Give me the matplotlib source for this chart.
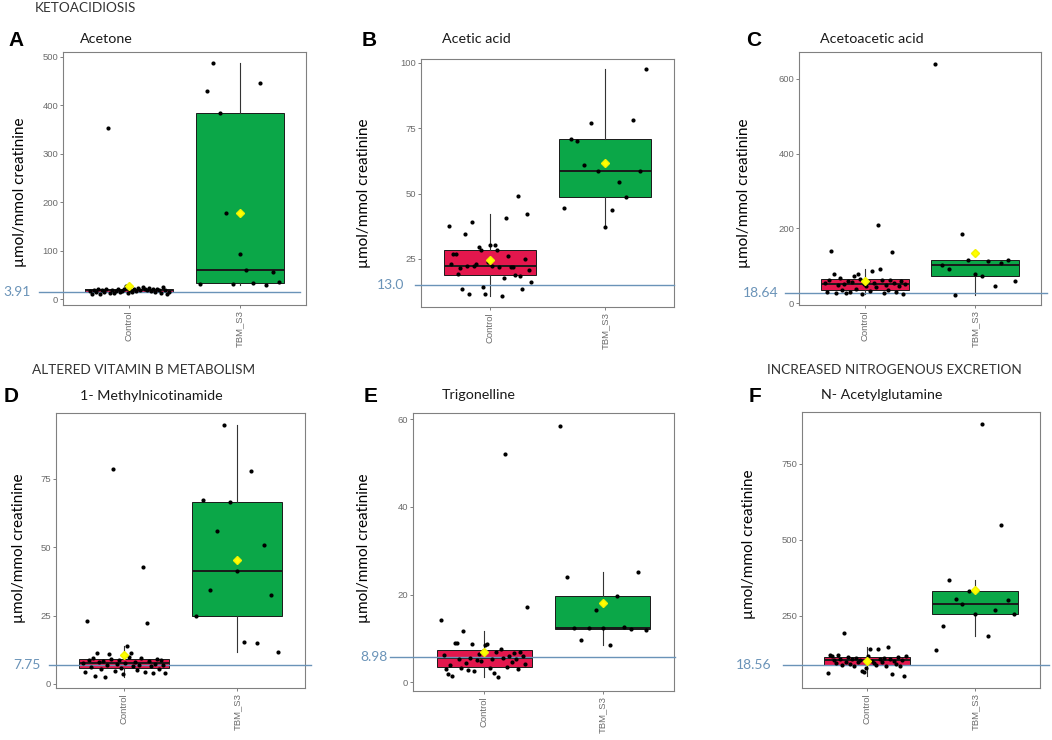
import numpy as np
import matplotlib.pyplot as plt

# groups on the x axis
groups = ["Control", "TBM_S3"]

# values (umol/mmol creatinine), listed roughly left to right
acetone_control = [17, 11, 19, 14, 20, 10, 18, 15, 21, 354, 13, 19, 12, 16, 22, 14, 17, 20, 27, 13,
                   18, 15, 21, 16, 23, 19, 25, 22, 18, 24, 17, 20, 15, 22, 19, 12, 26, 18, 11, 14]
acetone_tbm = [31, 430, 488, 385, 177, 31, 93, 61, 34, 447, 29, 57, 36]

acetic_control = [37.7, 23.2, 26.8, 26.8, 19.1, 21.7, 13.5, 34.5, 22.3, 11.4, 39.1, 22.3, 23.2,
                  29.4, 28.6, 14.2, 11.7, 24.0, 30.5, 22.2, 30.2, 28.6, 21.9, 11.0, 17.8, 40.5,
                  26.0, 21.9, 21.9, 18.7, 49.2, 18.6, 13.6, 25.1, 42.2, 20.9, 16.0]
acetic_tbm = [44.3, 70.8, 70.3, 61.1, 77.1, 58.8, 37.2, 43.7, 54.6, 48.6, 78.1, 58.7, 97.6]

acetoacetic_control = [55, 29, 62, 139, 77, 28, 48, 66, 35, 52, 26, 60, 30, 57, 73, 38, 79, 64, 25,
                       50, 46, 58, 33, 86, 54, 42, 210, 92, 63, 27, 49, 36, 61, 137, 53, 31, 45,
                       59, 24, 51]
acetoacetic_tbm = [641, 103, 90, 23, 186, 115, 79, 72, 113, 45, 107, 115, 59]

methylnic_control = [7.5, 4.2, 23.1, 8.8, 6.1, 9.5, 3.0, 11.4, 7.9, 5.4, 8.2, 2.6, 6.8, 11.0, 9.1,
                     78.5, 4.8, 7.2, 8.6, 5.9, 3.5, 7.7, 13.9, 9.8, 11.4, 6.4, 8.0, 5.1, 7.0, 9.3,
                     42.6, 4.5, 22.2, 8.4, 6.6, 3.9, 7.4, 9.0, 5.6, 8.9, 6.9, 4.1]
methylnic_tbm = [24.8, 67.2, 34.3, 55.8, 94.6, 66.6, 41.3, 15.5, 77.9, 14.9, 50.8, 32.5, 11.6]

trigonelline_control = [14.2, 6.2, 3.0, 1.8, 4.0, 1.5, 8.9, 9.0, 5.2, 3.2, 11.7, 4.3, 2.9, 5.5,
                        8.7, 2.5, 5.0, 6.4, 4.8, 7.2, 8.6, 8.8, 3.3, 5.4, 2.0, 7.0, 1.1, 7.5, 5.6,
                        52.0, 3.5, 6.0, 4.6, 6.6, 5.3, 3.1, 6.8, 5.9, 4.1, 17.1]
trigonelline_tbm = [58.4, 24.1, 12.3, 9.6, 12.3, 16.5, 12.3, 8.5, 19.7, 12.5, 12.2, 25.2, 11.9]

acetylgln_control = [62, 120, 118, 105, 95, 122, 110, 88, 195, 100, 115, 92, 108, 85, 112, 98,
                     104, 68, 64, 80, 117, 141, 102, 96, 90, 142, 107, 99, 113, 86, 148, 110, 58,
                     103, 93, 116, 87, 106, 53, 119]
acetylgln_tbm = [137, 216, 367, 306, 288, 332, 255, 883, 184, 271, 550, 302, 255]

panel_letters = ["A", "B", "C", "D", "E", "F"]
panel_titles = ["Acetone", "Acetic acid", "Acetoacetic acid",
                "1- Methylnicotinamide", "Trigonelline", "N- Acetylglutamine"]
ref_labels = ["3.91", "13.0", "18.64", "7.75", "8.98", "18.56"]
ref_levels = [14.5, 15.0, 27.0, 7.0, 5.7, 89.0]
y_limits = [(-12, 510), (6.6, 101.5), (-5, 672), (-1.5, 99.1), (-2.0, 61.4), (13, 921)]
y_ticks = [[0, 100, 200, 300, 400, 500], [25, 50, 75, 100], [0, 200, 400, 600],
           [0, 25, 50, 75], [0, 20, 40, 60], [250, 500, 750]]
sections = ["KETOACIDIOSIS", "ALTERED VITAMIN B METABOLISM", "INCREASED NITROGENOUS EXCRETION"]

panel_data = [
    (acetone_control, acetone_tbm),
    (acetic_control, acetic_tbm),
    (acetoacetic_control, acetoacetic_tbm),
    (methylnic_control, methylnic_tbm),
    (trigonelline_control, trigonelline_tbm),
    (acetylgln_control, acetylgln_tbm),
]

W, H = 1052, 740
box_colors = ["#e3174d", "#0ba748"]
ref_color = "#6a93b8"

# pixel layout: axes box (x0, y0, x1, y1), title left/y, letter x/y, ylabel x/y,
# reference line span (axes fraction), reference label right edge (px)
layout = [
    ((63, 52, 306, 305), (80, 39), (8, 40), (20, 192), (-0.099, 0.975), 31),
    ((421, 59, 674, 307), (442, 39), (362, 40), (364, 193), (-0.024, 1.0), 404),
    ((799, 52, 1041, 305), (820, 39), (746, 40), (744, 193), (-0.058, 1.025), 778),
    ((56, 413, 305, 688), (80, 396), (4, 396), (19, 548), (-0.028, 1.024), 41),
    ((413, 413, 674, 691), (442, 395), (364, 396), (364, 548), (-0.088, 1.004), 388),
    ((802, 412, 1040, 688), (821, 395), (749, 396), (749, 544), (-0.08, 1.038), 771),
]


def fx(x):
    return x / W


def fy(y):
    return 1 - y / H


fig = plt.figure(figsize=(W / 100, H / 100), dpi=100)

for i, (ctrl, tbm) in enumerate(panel_data):
    (x0, y0, x1, y1), title_xy, letter_xy, ylab_xy, span, ref_x = layout[i]
    ax = fig.add_axes([fx(x0), fy(y1), (x1 - x0) / W, (y1 - y0) / H])

    bp = ax.boxplot([ctrl, tbm], positions=[1, 2], widths=0.8, patch_artist=True,
                    showfliers=False, showcaps=False, whis=1.5, showmeans=True,
                    medianprops=dict(color="#1a1a1a", linewidth=1.4),
                    whiskerprops=dict(color="#333333", linewidth=0.8),
                    boxprops=dict(edgecolor="#1a1a1a", linewidth=0.7),
                    meanprops=dict(marker="D", markerfacecolor="#ffff00",
                                   markeredgecolor="#f2f200", markersize=4.5))
    for patch, c in zip(bp["boxes"], box_colors):
        patch.set_facecolor(c)
    for m in bp["means"]:
        m.set_zorder(6)

    # jittered points, spread across the box width in list order
    for pos, vals in zip([1, 2], [ctrl, tbm]):
        offs = np.linspace(-0.36, 0.36, len(vals))
        ax.scatter(pos + offs, vals, s=9, color="black", zorder=5, linewidths=0)

    ax.set_xlim(0.4, 2.6)
    ax.set_ylim(*y_limits[i])

    # reference level line and its label
    ytr = ax.get_yaxis_transform()
    ax.plot(span, [ref_levels[i], ref_levels[i]], color=ref_color, lw=1.0,
            transform=ytr, clip_on=False, zorder=4)
    ax.text((ref_x - x0) / (x1 - x0), ref_levels[i], ref_labels[i], transform=ytr,
            ha="right", va="center", fontsize=10, color=ref_color, family="Lato")

    ax.set_yticks(y_ticks[i])
    ax.set_xticks([1, 2])
    ax.set_xticklabels(groups, rotation=90, fontsize=6.8, color="#6b6b6b",
                       family="Liberation Sans")
    ax.tick_params(axis="y", labelsize=6.8, labelcolor="#6b6b6b", length=2,
                   width=0.6, color="#6b6b6b", pad=1.5)
    ax.tick_params(axis="x", length=2, width=0.6, color="#6b6b6b", pad=2)
    for lab in ax.get_yticklabels():
        lab.set_family("Liberation Sans")
    for sp in ax.spines.values():
        sp.set_color("#808080")
        sp.set_linewidth(0.8)

    fig.text(fx(title_xy[0]), fy(title_xy[1]), panel_titles[i], ha="left", va="center",
             fontsize=10.3, color="#1a1a1a", family="Lato")
    fig.text(fx(letter_xy[0]), fy(letter_xy[1]), panel_letters[i], ha="left", va="center",
             fontsize=15, fontweight="bold", color="black", family="Liberation Sans")
    fig.text(fx(ylab_xy[0]), fy(ylab_xy[1]), "µmol/mmol creatinine", rotation=90,
             ha="center", va="center", fontsize=11, color="black", family="Lato")

# section headings
fig.text(fx(35), fy(8), sections[0], ha="left", va="center", fontsize=9.8, color="#333333",
         family="Lato")
fig.text(fx(32), fy(370), sections[1], ha="left", va="center", fontsize=9.8, color="#333333",
         family="Lato")
fig.text(fx(767), fy(370), sections[2], ha="left", va="center", fontsize=9.8, color="#333333",
         family="Lato")

fig.savefig("out.png", dpi=100)
